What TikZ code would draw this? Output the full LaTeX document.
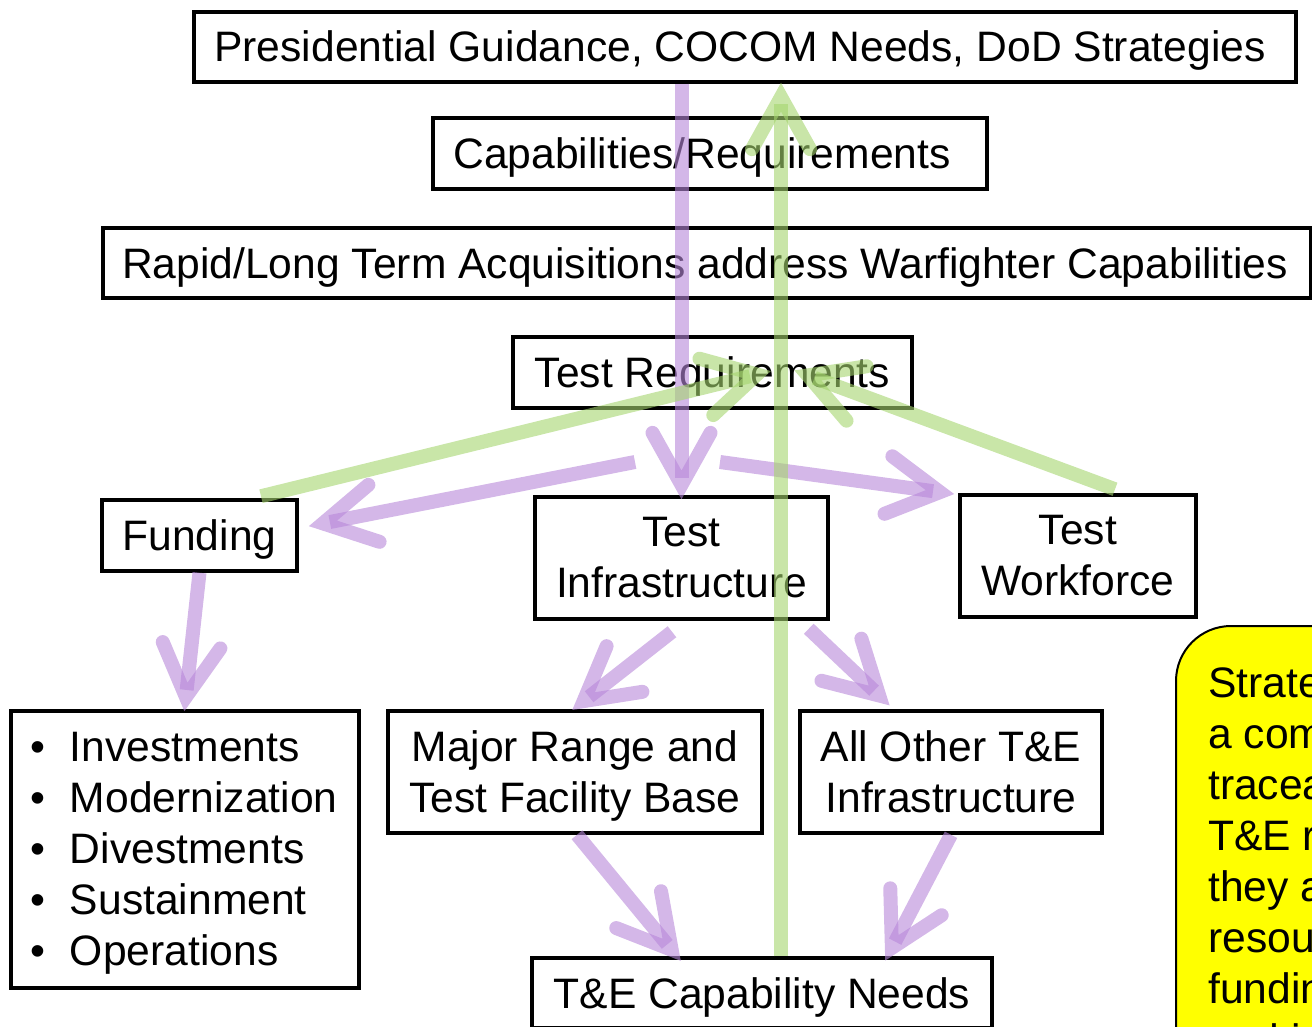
\documentclass[tikz,border=0pt]{standalone}
\usepackage{fontspec}
\setmainfont{Liberation Sans}
\usetikzlibrary{arrows.meta}
\definecolor{arrP}{RGB}{183,135,217}
\definecolor{arrG}{RGB}{165,213,110}
\definecolor{noteY}{RGB}{255,255,0}
\begin{document}
\begin{tikzpicture}[x=1pt,y=-1pt,
  box/.style={draw=black, line width=3.5pt, fill=white, inner sep=0pt,
    font=\fontsize{42.6}{51}\selectfont, align=center},
  oneline/.style={text height=30pt, text depth=0pt},
  barb/.style={-{Straight Barb[length=52pt,width=58pt,line cap=round,line join=miter]}, shorten >=-6pt},
  parrow/.style={draw=arrP, draw opacity=0.6, line width=14pt, barb},
  garrow/.style={draw=arrG, draw opacity=0.6, line width=14pt, barb},
  notetext/.style={inner sep=0pt, align=left, font=\fontsize{42.6}{51}\selectfont}
]
\useasboundingbox (0,0) rectangle (1312,1027);
\clip (0,0) rectangle (1312,1027);

% boxes
\node[box, oneline, minimum width=1102pt, minimum height=70pt] (pres) at (745,47)
  {Presidential Guidance, COCOM Needs, DoD Strategies\hspace{10pt}};
\node[box, oneline, minimum width=554pt, minimum height=71pt] (capreq) at (710,153.5)
  {Capabilities/Requirements\hspace{16pt}};
\node[box, oneline, minimum width=1208pt, minimum height=70pt] (rapid) at (707,263)
  {Rapid/Long Term Acquisitions address Warfighter Capabilities\hspace{4pt}};
\node[box, oneline, minimum width=399pt, minimum height=71pt] (testreq) at (712.5,372.5)
  {Test Requirements};
\node[box, oneline, minimum width=195pt, minimum height=71pt] (funding) at (199.5,535.5)
  {Funding};
\node[box, minimum width=293pt, minimum height=122pt] (tinf) at (681.5,558)
  {Test\\Infrastructure};
\node[box, minimum width=236pt, minimum height=122pt] (twork) at (1078,556)
  {Test\\Workforce};
\node[box, minimum width=348pt, minimum height=277pt, text width=308.6pt, align=left] (bullets) at (185,849.5)
  {\makebox[39.3pt][l]{•}Investments\\
   \makebox[39.3pt][l]{•}Modernization\\
   \makebox[39.3pt][l]{•}Divestments\\
   \makebox[39.3pt][l]{•}Sustainment\\
   \makebox[39.3pt][l]{•}O\smash{p}erations};
\node[box, minimum width=374pt, minimum height=122pt] (major) at (575,772)
  {Major Range and\\Test Facilit\smash{y} Base};
\node[box, minimum width=302pt, minimum height=122pt] (allother) at (951,772)
  {All Other T\&E\\Infrastructure};
\node[box, oneline, minimum width=460pt, minimum height=70pt] (tecap) at (762,993)
  {T\&E Capability Needs};

% note box (cut off by the page edge)
\node[draw=black, line width=2pt, fill=noteY, rounded corners=55pt, anchor=north west,
  minimum width=420pt, minimum height=600pt] (notebox) at (1175,625) {};
\node[notetext, anchor=north west] (note) at (1208,666)
  {Strategic planning provides\\
   a comprehensive and\\
   traceable view of the\\
   T\&E requirements as\\
   they are\\
   resourced through\\
   funding, workforce\\
   and infrastructure};

% free ends
\coordinate (pL) at (635,462);
\coordinate (pR) at (720,462);

% purple arrows (downward flow)
\draw[parrow] (pres.south -| tinf.north) -- ([shift={(0,-2)}]tinf.north);
\draw[parrow] (pL) -- ([shift={(16,-10.5)}]funding.east);
\draw[parrow] (pR) -- ([shift={(-10,0)}]twork.north west);
\draw[parrow] (funding.south) -- ([shift={(0,-4)}]bullets.north);
\draw[parrow] ([shift={(-9.5,11)}]tinf.south) -- ([shift={(2,-3)}]major.north);
\draw[parrow] ([shift={(-21,8)}]tinf.south east) -- ([shift={(87,-8)}]allother.north west);
\draw[parrow] ([shift={(2,0)}]major.south) -- ([shift={(-85,0)}]tecap.north);
\draw[parrow] (allother.south) -- ([shift={(126,-1)}]tecap.north);

% green arrows (upward flow)
\draw[garrow] ([shift={(19,0)}]tecap.north) -- ([shift={(36,5)}]pres.south);
\draw[garrow] ([shift={(61.5,-2)}]funding.north) -- ([shift={(52.5,0)}]testreq.center);
\draw[garrow] ([shift={(37,-4)}]twork.north) -- ([shift={(87.5,0)}]testreq.center);
\end{tikzpicture}
\end{document}
